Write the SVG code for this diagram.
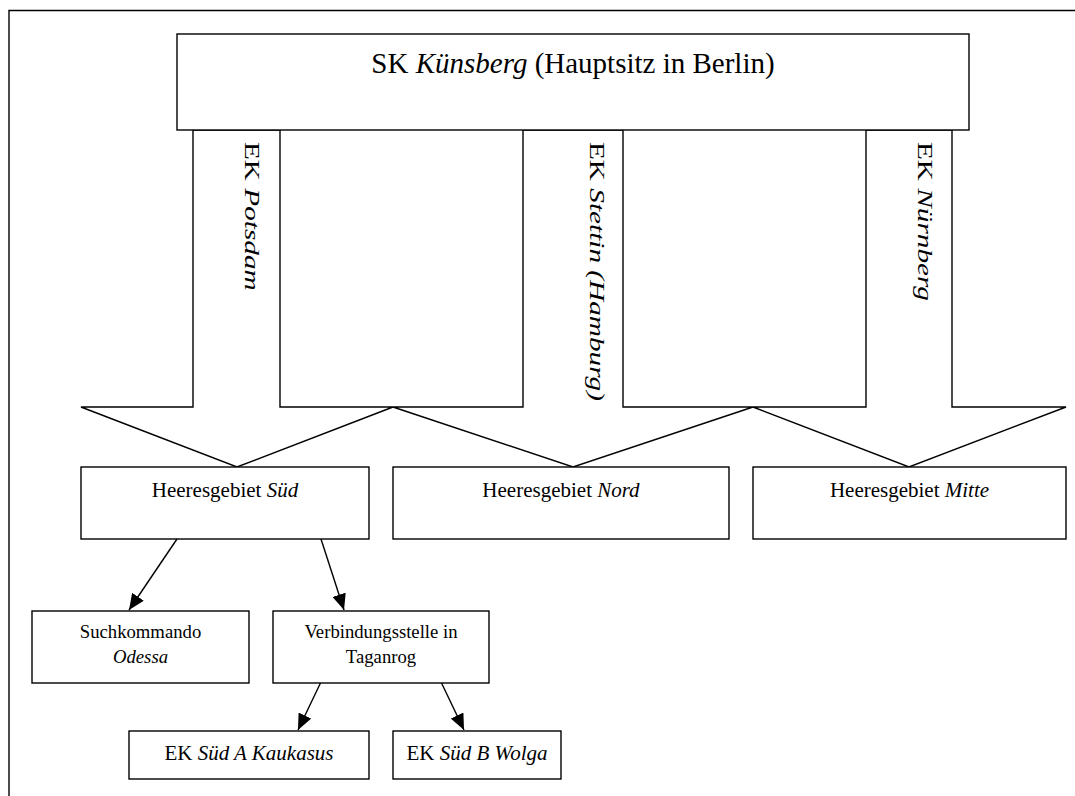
<svg xmlns="http://www.w3.org/2000/svg" width="1075" height="796" viewBox="0 0 1075 796">
<style>
.box{fill:#fff;stroke:#000;stroke-width:1.4}
.blk{fill:#fff;stroke:#000;stroke-width:1.4;stroke-linejoin:miter}
.t{font-family:"Liberation Serif","Times New Roman",serif;fill:#000}
.con{stroke:#000;stroke-width:1.4;fill:none}
</style>
<defs>
<marker id="ah" markerUnits="userSpaceOnUse" markerWidth="16" markerHeight="14" viewBox="0 0 16 14" refX="16" refY="7" orient="auto">
<path d="M0,0 L16,7 L0,14 z" fill="#000"/>
</marker>
</defs>
<rect width="1075" height="796" fill="#fff"/>
<path d="M9,796 L9,10.5 L1075,10.5" fill="none" stroke="#000" stroke-width="1.4"/>

<g id="arrow-potsdam">
<polygon class="blk" points="193,130 280,130 280,407 393,407 237,467 81,407 193,407"/>
<text class="t" font-size="22" transform="translate(245,142) rotate(90) scale(1.33,1)">EK <tspan font-style="italic">Potsdam</tspan></text>
</g>
<g id="arrow-stettin">
<polygon class="blk" points="523,130 623,130 623,407 753,407 573,467 393,407 523,407"/>
<text class="t" font-size="22" transform="translate(590,142) rotate(90) scale(1.33,1)">EK <tspan font-style="italic">Stettin (Hamburg)</tspan></text>
</g>
<g id="arrow-nuernberg">
<polygon class="blk" points="866,130 952,130 952,407 1066,407 909,467 753,407 866,407"/>
<text class="t" font-size="22" transform="translate(918,142) rotate(90) scale(1.33,1)">EK <tspan font-style="italic">Nürnberg</tspan></text>
</g>

<g id="sk-kuensberg">
<rect class="box" x="177" y="34" width="792" height="96"/>
<text class="t" font-size="29" x="573" y="73" text-anchor="middle">SK <tspan font-style="italic">Künsberg</tspan> (Hauptsitz in Berlin)</text>
</g>

<g id="hg-sued">
<rect class="box" x="81" y="467" width="288" height="72"/>
<text class="t" font-size="21" x="225" y="497" text-anchor="middle">Heeresgebiet <tspan font-style="italic">Süd</tspan></text>
</g>
<g id="hg-nord">
<rect class="box" x="393" y="467" width="336" height="72"/>
<text class="t" font-size="21" x="561" y="497" text-anchor="middle">Heeresgebiet <tspan font-style="italic">Nord</tspan></text>
</g>
<g id="hg-mitte">
<rect class="box" x="753" y="467" width="313" height="72"/>
<text class="t" font-size="21" x="909.5" y="497" text-anchor="middle">Heeresgebiet <tspan font-style="italic">Mitte</tspan></text>
</g>

<g id="suchkommando">
<rect class="box" x="32" y="611" width="217" height="72"/>
<text class="t" font-size="18.7" x="140.5" y="638" text-anchor="middle">Suchkommando</text>
<text class="t" font-size="18.7" x="140.5" y="663" text-anchor="middle" font-style="italic">Odessa</text>
</g>
<g id="verbindungsstelle">
<rect class="box" x="273" y="611" width="216" height="72"/>
<text class="t" font-size="18.7" x="381" y="638" text-anchor="middle">Verbindungsstelle in</text>
<text class="t" font-size="18.7" x="381" y="663" text-anchor="middle">Taganrog</text>
</g>
<g id="ek-sued-a">
<rect class="box" x="129" y="731" width="240" height="48"/>
<text class="t" font-size="21" x="249" y="760" text-anchor="middle">EK <tspan font-style="italic">Süd A Kaukasus</tspan></text>
</g>
<g id="ek-sued-b">
<rect class="box" x="393" y="731" width="168" height="48"/>
<text class="t" font-size="21" x="477" y="760" text-anchor="middle">EK <tspan font-style="italic">Süd B Wolga</tspan></text>
</g>

<g id="connectors">
<line class="con" x1="177" y1="539" x2="129" y2="610" marker-end="url(#ah)"/>
<line class="con" x1="321" y1="539" x2="344" y2="610" marker-end="url(#ah)"/>
<line class="con" x1="320.5" y1="683" x2="298" y2="730" marker-end="url(#ah)"/>
<line class="con" x1="441.5" y1="683" x2="464" y2="730" marker-end="url(#ah)"/>
</g>
</svg>
